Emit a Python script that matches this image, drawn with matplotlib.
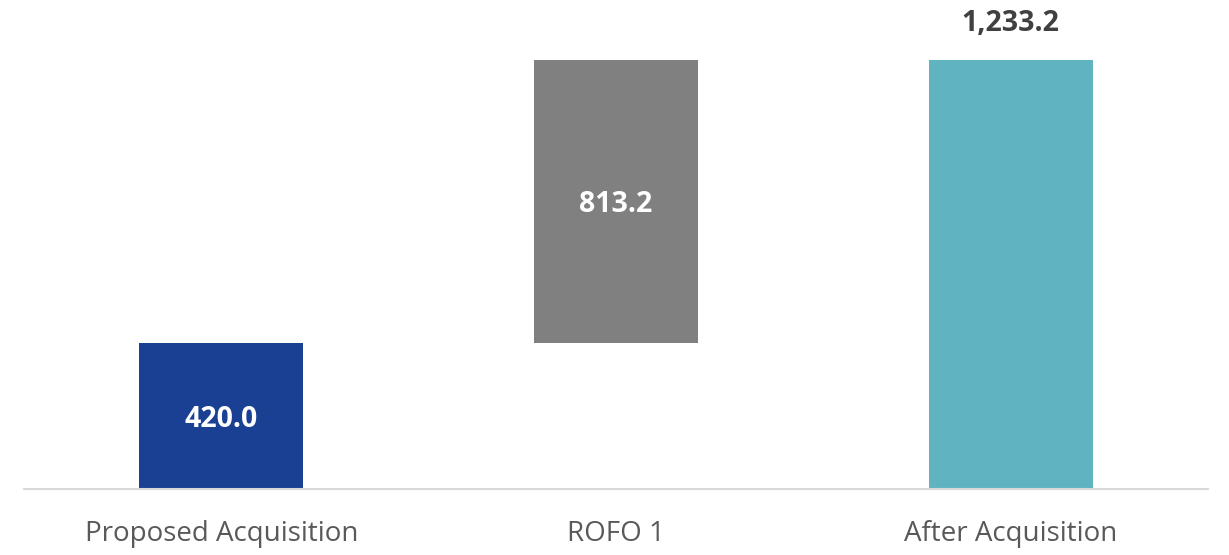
import matplotlib
matplotlib.use("Agg")
import matplotlib.pyplot as plt

categories = ["Proposed Acquisition", "ROFO 1", "After Acquisition"]
values = [420.0, 813.2, 1233.2]
bottoms = [0, 420.0, 0]
labels = ["420.0", "813.2", "1,233.2"]
colors = ["#1A4094", "#808080", "#60B4C2"]

plt.rcParams['font.family'] = ['Open Sans', 'DejaVu Sans']

fig = plt.figure(figsize=(12.29, 5.55), dpi=100)
ax = fig.add_axes([24 / 1229, 66 / 555, 1184 / 1229, 489 / 555])

x = range(len(categories))
bars = ax.bar(x, values, bottom=bottoms, width=0.415, color=colors)

# white labels inside first two bars, dark label above the total
for i, b in enumerate(bars):
    if i < 2:
        ax.text(b.get_x() + b.get_width() / 2, bottoms[i] + values[i] / 2, labels[i],
                ha='center', va='center_baseline', color='white', fontsize=20.5, fontweight='bold')
    else:
        ax.text(b.get_x() + b.get_width() / 2, bottoms[i] + values[i] + 105, labels[i],
                ha='center', va='center', color='#404040', fontsize=20.5, fontweight='bold')

ax.set_xlim(-0.5, 2.5)
ax.set_ylim(0, 1233.2 * 489 / 429)
ax.set_xticks(list(x))
ax.set_xticklabels(categories, fontsize=20, color='#595959')
ax.tick_params(axis='x', length=0, pad=22)
ax.set_yticks([])
for s in ['top', 'right', 'left']:
    ax.spines[s].set_visible(False)
ax.spines['bottom'].set_color('#D9D9D9')
ax.spines['bottom'].set_linewidth(1.5)

fig.savefig("out.png", dpi=100)
